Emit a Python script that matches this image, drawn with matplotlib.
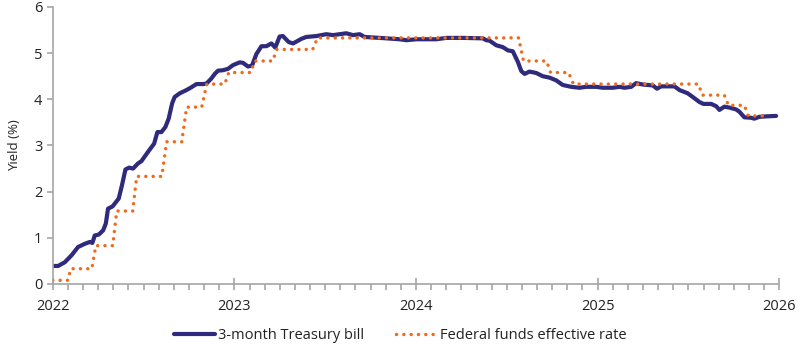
import numpy as np
import matplotlib.pyplot as plt
from matplotlib.ticker import MultipleLocator

plt.rcParams['font.family'] = ['Open Sans', 'DejaVu Sans']

# 3-month Treasury bill yield (decimal year, %)
tbill_x = [2022.006, 2022.029, 2022.066, 2022.103, 2022.139, 2022.176, 2022.204, 2022.218,
           2022.231, 2022.253, 2022.277, 2022.292, 2022.304, 2022.329, 2022.363, 2022.381,
           2022.400, 2022.420, 2022.442, 2022.469, 2022.488, 2022.524, 2022.558, 2022.576,
           2022.598, 2022.620, 2022.638, 2022.657, 2022.671, 2022.699, 2022.736, 2022.763,
           2022.791, 2022.827, 2022.846, 2022.873, 2022.892, 2022.910, 2022.937, 2022.965,
           2022.992, 2023.029, 2023.047, 2023.075, 2023.097, 2023.121, 2023.149, 2023.176,
           2023.204, 2023.225, 2023.249, 2023.267, 2023.299, 2023.323, 2023.369, 2023.396,
           2023.451, 2023.506, 2023.543, 2023.616, 2023.653, 2023.690, 2023.717, 2023.800,
           2023.910, 2023.947, 2024.002, 2024.057, 2024.112, 2024.167, 2024.258, 2024.368,
           2024.387, 2024.405, 2024.442, 2024.478, 2024.506, 2024.533, 2024.561, 2024.580,
           2024.598, 2024.625, 2024.662, 2024.698, 2024.735, 2024.772, 2024.808, 2024.855,
           2024.900, 2024.937, 2024.992, 2025.029, 2025.084, 2025.121, 2025.148, 2025.185,
           2025.212, 2025.249, 2025.304, 2025.327, 2025.350, 2025.423, 2025.451, 2025.496,
           2025.524, 2025.561, 2025.583, 2025.625, 2025.653, 2025.671, 2025.698, 2025.726,
           2025.763, 2025.781, 2025.808, 2025.845, 2025.863, 2025.891, 2025.928, 2025.983]
tbill_y = [0.39, 0.39, 0.47, 0.62, 0.80, 0.87, 0.91, 0.89,
           1.05, 1.07, 1.16, 1.31, 1.63, 1.68, 1.85, 2.14,
           2.48, 2.52, 2.50, 2.61, 2.66, 2.86, 3.04, 3.29,
           3.29, 3.40, 3.58, 3.91, 4.05, 4.13, 4.20, 4.26,
           4.33, 4.33, 4.34, 4.45, 4.55, 4.62, 4.63, 4.66,
           4.74, 4.80, 4.79, 4.71, 4.73, 4.98, 5.15, 5.15,
           5.21, 5.12, 5.36, 5.37, 5.24, 5.21, 5.31, 5.35,
           5.37, 5.41, 5.39, 5.43, 5.39, 5.41, 5.35, 5.33,
           5.30, 5.28, 5.30, 5.30, 5.30, 5.33, 5.33, 5.32,
           5.28, 5.27, 5.17, 5.13, 5.06, 5.04, 4.81, 4.61,
           4.55, 4.60, 4.57, 4.50, 4.47, 4.41, 4.31, 4.27,
           4.25, 4.27, 4.27, 4.25, 4.25, 4.27, 4.25, 4.27,
           4.35, 4.32, 4.30, 4.23, 4.28, 4.28, 4.20, 4.13,
           4.05, 3.94, 3.90, 3.90, 3.85, 3.77, 3.84, 3.82,
           3.78, 3.73, 3.61, 3.60, 3.58, 3.62, 3.63, 3.64]

# Federal funds effective rate (start/end of each level)
ffr_x = [2022.000, 2022.083, 2022.099, 2022.215, 2022.237, 2022.330, 2022.352, 2022.440,
         2022.462, 2022.600, 2022.627, 2022.710, 2022.737, 2022.820, 2022.848, 2022.947,
         2022.969, 2023.090, 2023.112, 2023.211, 2023.233, 2023.431, 2023.458, 2024.565,
         2024.592, 2024.719, 2024.741, 2024.840, 2024.867, 2025.555, 2025.577, 2025.698,
         2025.720, 2025.808, 2025.830, 2025.935]
ffr_y = [0.08, 0.08, 0.33, 0.33, 0.83, 0.83, 1.58, 1.58,
         2.33, 2.33, 3.08, 3.08, 3.83, 3.83, 4.33, 4.33,
         4.58, 4.58, 4.83, 4.83, 5.08, 5.08, 5.33, 5.33,
         4.83, 4.83, 4.58, 4.58, 4.33, 4.33, 4.09, 4.09,
         3.87, 3.87, 3.64, 3.64]

years = [2022, 2023, 2024, 2025, 2026]

fig = plt.figure(figsize=(8, 3.48), dpi=100)
ax = fig.add_axes([0.066, 0.184, 0.908, 0.796])

ax.plot(tbill_x, tbill_y, color='#2f2a7c', linewidth=3, solid_joinstyle='round',
        solid_capstyle='round', label='3-month Treasury bill')
ax.plot(ffr_x, ffr_y, color='#ee6a1c', linewidth=2.5, linestyle=(0, (0.01, 2.1)),
        dash_capstyle='round', label='Federal funds effective rate')

ax.set_xlim(2022, 2026)
ax.set_ylim(0, 6)
ax.set_xticks(years)
ax.set_xticklabels([str(y) for y in years])
ax.xaxis.set_minor_locator(MultipleLocator(1 / 12))
ax.set_yticks(range(0, 7))

for side in ['top', 'right']:
    ax.spines[side].set_visible(False)
for side in ['left', 'bottom']:
    ax.spines[side].set_color('#a6a6a6')
    ax.spines[side].set_linewidth(1.2)

ax.tick_params(axis='x', which='major', direction='inout', length=9, width=1.2,
               color='#a6a6a6', labelsize=10.5, pad=6, labelcolor='#222222')
ax.tick_params(axis='x', which='minor', direction='out', length=4, width=1.2, color='#a6a6a6')
ax.tick_params(axis='y', direction='out', length=4, width=1.2, color='#a6a6a6',
               labelsize=10.5, labelcolor='#222222')
ax.set_ylabel('Yield (%)', fontsize=9.5, color='#222222', labelpad=9)

fig.legend(loc='center', bbox_to_anchor=(0.5, 0.037), ncol=2, frameon=False,
           fontsize=10.5, handlelength=2.8, handletextpad=0.2, columnspacing=2.2,
           labelcolor='#222222')

fig.savefig('out.png', dpi=100)
